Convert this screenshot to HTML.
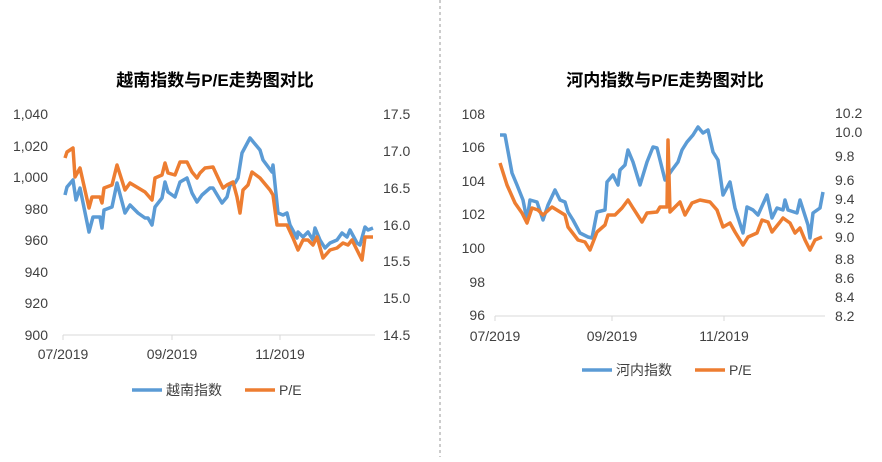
<!DOCTYPE html>
<html><head><meta charset="utf-8"><style>body{margin:0;background:#fff}svg text{font-family:"Liberation Sans","Noto Sans CJK SC",sans-serif;fill:#404040}</style></head><body>
<svg width="882" height="457" viewBox="0 0 882 457" xmlns="http://www.w3.org/2000/svg">
<line x1="440" y1="0" x2="440" y2="457" stroke="#999" stroke-dasharray="3,3"/>
<text x="215" y="86" font-size="17" font-weight="bold" text-anchor="middle" style="fill:#000">越南指数与P/E走势图对比</text>
<text x="665" y="86" font-size="17" font-weight="bold" text-anchor="middle" style="fill:#000">河内指数与P/E走势图对比</text>
<g font-size="14" text-anchor="end">
<text x="48" y="119">1,040</text><text x="48" y="151">1,020</text><text x="48" y="182">1,000</text><text x="48" y="214">980</text><text x="48" y="245">960</text><text x="48" y="277">940</text><text x="48" y="308">920</text><text x="48" y="340">900</text>
<text x="485" y="119">108</text><text x="485" y="152">106</text><text x="485" y="186">104</text><text x="485" y="219">102</text><text x="485" y="253">100</text><text x="485" y="287">98</text><text x="485" y="320">96</text>
</g>
<g font-size="14" text-anchor="start">
<text x="383" y="119">17.5</text><text x="383" y="156">17.0</text><text x="383" y="193">16.5</text><text x="383" y="230">16.0</text><text x="383" y="266">15.5</text><text x="383" y="303">15.0</text><text x="383" y="340">14.5</text>
<text x="835" y="118">10.2</text><text x="835" y="137">10.0</text><text x="835" y="161">9.8</text><text x="835" y="185">9.6</text><text x="835" y="204">9.4</text><text x="835" y="223">9.2</text><text x="835" y="242">9.0</text><text x="835" y="264">8.8</text><text x="835" y="283">8.6</text><text x="835" y="302">8.4</text><text x="835" y="321">8.2</text>
</g>
<g font-size="14" text-anchor="middle">
<text x="63" y="359">07/2019</text><text x="172" y="359">09/2019</text><text x="280" y="359">11/2019</text>
<text x="495" y="341">07/2019</text><text x="612" y="341">09/2019</text><text x="724" y="341">11/2019</text>
</g>
<g stroke="#d9d9d9"><line x1="63" y1="335" x2="375" y2="335"/><line x1="495" y1="316" x2="825" y2="316"/>
<line x1="63" y1="335" x2="63" y2="340"/><line x1="172" y1="335" x2="172" y2="340"/><line x1="280" y1="335" x2="280" y2="340"/>
<line x1="495" y1="316" x2="495" y2="321"/><line x1="612" y1="316" x2="612" y2="321"/><line x1="724" y1="316" x2="724" y2="321"/></g>
<g fill="none" stroke-width="3.5" stroke-linejoin="round">
<polyline stroke="#5b9bd5" points="65,195 67,187 73,180 76,200 80,188 89,232 93,217 100,217 102,228 104,210 112,207 117,183 125,213 130,205 138,213 145,218 148,218 152,225 155,207 162,198 165,182 168,192 175,197 180,182 187,178 192,193 197,202 202,195 210,188 213,188 222,203 227,197 230,185 235,183 238,178 242,153 250,138 260,150 263,160 272,172 273,165 278,213 283,215 287,213 290,225 297,238 298,232 303,237 308,232 313,240 315,228 320,240 325,248 330,243 337,240 342,233 347,237 350,230 357,243 360,245 365,227 368,230 373,228"/>
<polyline stroke="#ed7d31" points="65,158 67,152 73,148 75,177 80,168 89,208 92,197 100,197 102,203 104,188 112,185 117,165 125,190 130,183 145,192 152,200 155,178 162,175 165,163 168,173 175,175 180,162 187,162 192,172 197,178 200,173 205,168 213,167 220,182 223,188 227,185 233,182 237,197 240,213 243,190 248,185 252,172 260,178 270,190 273,195 277,225 287,225 293,238 298,250 303,240 308,240 313,245 317,237 323,258 330,250 337,248 343,243 348,245 352,240 357,250 362,260 365,237 373,237"/>
<polyline stroke="#5b9bd5" points="500,135 505,135 512,173 517,185 523,200 527,220 530,200 537,202 543,220 548,205 555,190 560,200 565,202 568,212 573,220 580,233 588,237 592,238 597,212 605,210 607,182 613,175 618,185 620,170 625,165 628,150 633,162 640,185 647,162 653,147 657,148 665,180 672,170 678,162 682,150 687,142 693,135 698,127 703,133 708,130 713,152 718,160 723,195 730,182 735,208 743,233 747,207 753,210 758,215 767,195 772,218 777,208 783,210 785,200 788,210 797,213 800,200 808,225 810,238 813,213 820,208 823,192"/>
<polyline stroke="#ed7d31" points="500,163 507,185 515,203 522,213 527,223 532,208 538,210 543,215 552,207 565,215 568,227 578,240 585,242 590,250 597,232 605,225 608,215 615,215 622,208 628,200 633,208 642,222 647,213 657,212 660,207 667,207 668,140 670,212 680,202 685,215 692,203 700,200 710,202 717,210 723,227 730,223 735,232 743,245 748,237 757,233 762,220 768,222 772,232 780,222 783,218 790,223 795,233 800,228 805,240 810,250 815,240 822,237"/>
</g>
<g stroke-width="3.5"><line x1="132" y1="390" x2="162" y2="390" stroke="#5b9bd5"/><line x1="245" y1="390" x2="275" y2="390" stroke="#ed7d31"/>
<line x1="582" y1="370" x2="612" y2="370" stroke="#5b9bd5"/><line x1="695" y1="370" x2="725" y2="370" stroke="#ed7d31"/></g>
<g font-size="14"><text x="166" y="395">越南指数</text><text x="279" y="395">P/E</text><text x="616" y="375">河内指数</text><text x="729" y="375">P/E</text></g>
</svg></body></html>
